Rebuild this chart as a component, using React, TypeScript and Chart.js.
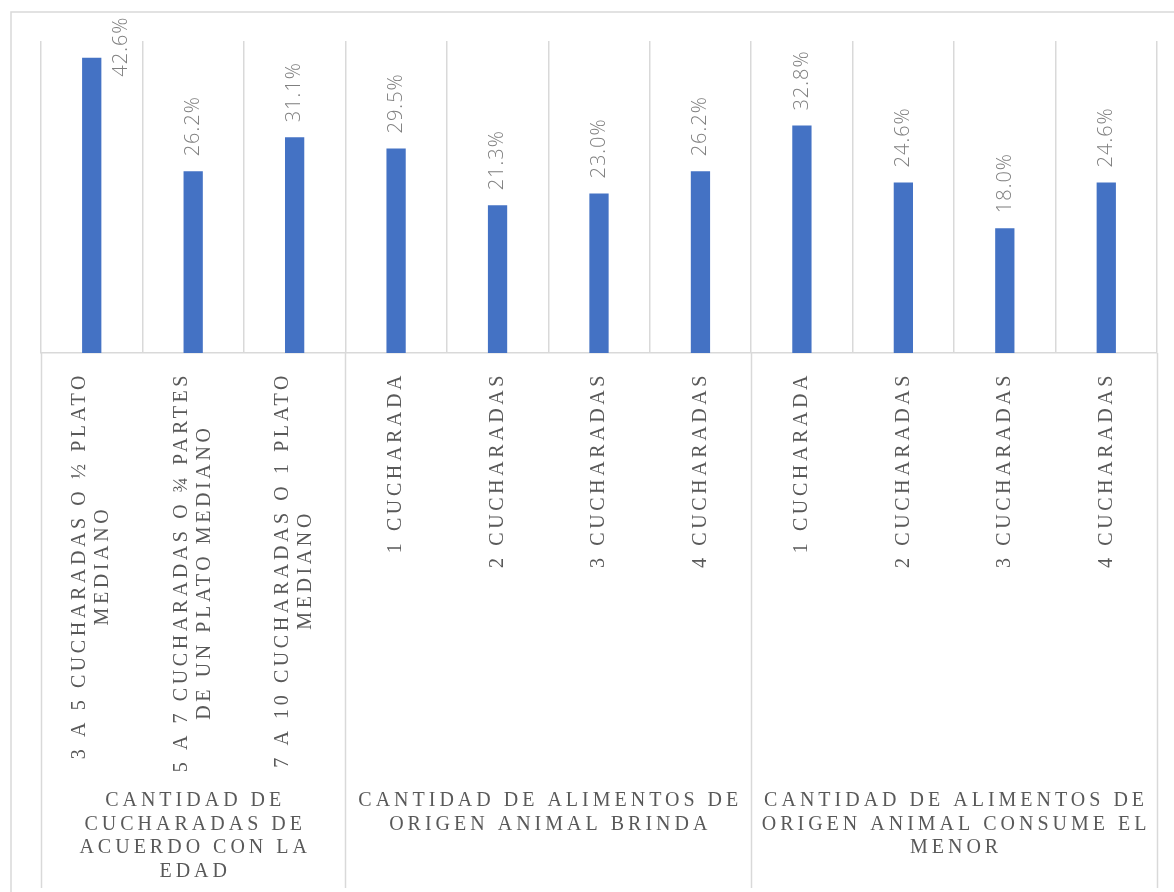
import React, { useEffect, useRef } from "react";
import { Chart, registerables } from "chart.js";

Chart.register(...registerables);

// Category labels (one entry per bar, each entry holds its text lines)
const categoryLines: string[][] = [
  ["3 A 5 CUCHARADAS O ½ PLATO", "MEDIANO"],
  ["5 A 7 CUCHARADAS O ¾ PARTES", "DE UN PLATO MEDIANO"],
  ["7 A 10 CUCHARADAS O 1 PLATO", "MEDIANO"],
  ["1 CUCHARADA"],
  ["2 CUCHARADAS"],
  ["3 CUCHARADAS"],
  ["4 CUCHARADAS"],
  ["1 CUCHARADA"],
  ["2 CUCHARADAS"],
  ["3 CUCHARADAS"],
  ["4 CUCHARADAS"],
];

// Percentages per category
const values: number[] = [42.6, 26.2, 31.1, 29.5, 21.3, 23.0, 26.2, 32.8, 24.6, 18.0, 24.6];

// Outer grouping of the categories
const groupLabels: string[][] = [
  ["CANTIDAD DE", "CUCHARADAS DE", "ACUERDO CON LA", "EDAD"],
  ["CANTIDAD DE ALIMENTOS DE", "ORIGEN ANIMAL BRINDA"],
  ["CANTIDAD DE ALIMENTOS DE", "ORIGEN ANIMAL CONSUME EL", "MENOR"],
];
const groupSizes: number[] = [3, 4, 4];

const W = 1174;
const H = 892;
const GRID = "#d9d9d9";
const TEXT = "#595959";
const SERIF = '"Liberation Serif", "DejaVu Serif", serif';

const labelsPlugin = {
  id: "groupedLabels",
  afterDraw(chart: any) {
    const ctx: CanvasRenderingContext2D = chart.ctx;
    const area = chart.chartArea;
    const x = chart.scales.x;
    const step = x.getPixelForValue(1) - x.getPixelForValue(0);
    const half = step / 2;
    const axisY = area.bottom;

    ctx.save();

    // outer frame
    ctx.strokeStyle = GRID;
    ctx.lineWidth = 1.5;
    ctx.beginPath();
    ctx.moveTo(11, H);
    ctx.lineTo(11, 12);
    ctx.lineTo(W, 12);
    ctx.stroke();

    // group separators below the axis
    const bounds: number[] = [0];
    groupSizes.forEach((n) => bounds.push(bounds[bounds.length - 1] + n));
    ctx.beginPath();
    bounds.forEach((b) => {
      const px = Math.round(x.getPixelForValue(b) - half) + 0.5;
      ctx.moveTo(px, axisY);
      ctx.lineTo(px, 888);
    });
    ctx.stroke();

    // rotated category labels
    ctx.fillStyle = TEXT;
    ctx.font = `20px ${SERIF}`;
    (ctx as any).letterSpacing = "3.6px";
    ctx.textBaseline = "middle";
    ctx.textAlign = "center";
    const lineH = 23;
    categoryLines.forEach((lines, i) => {
      const cx = x.getPixelForValue(i);
      const maxW = Math.max(...lines.map((l) => ctx.measureText(l).width));
      ctx.save();
      ctx.translate(cx, axisY + 19);
      ctx.rotate(-Math.PI / 2);
      lines.forEach((l, j) => {
        const off = (j - (lines.length - 1) / 2) * lineH;
        ctx.fillText(l, -maxW / 2, off);
      });
      ctx.restore();
    });

    // group labels
    (ctx as any).letterSpacing = "4px";
    ctx.textAlign = "center";
    groupLabels.forEach((lines, g) => {
      const left = x.getPixelForValue(bounds[g]) - half;
      const right = x.getPixelForValue(bounds[g + 1]) - half;
      const cx = (left + right) / 2 + 2;
      lines.forEach((l, j) => {
        ctx.fillText(l, cx, 801 + j * 23.5);
      });
    });

    // value labels
    const meta = chart.getDatasetMeta(0);
    ctx.font = `300 20px "Open Sans", "Lato", "Noto Sans", sans-serif`;
    (ctx as any).letterSpacing = "1px";
    ctx.fillStyle = "#7f7f7f";
    ctx.textAlign = "left";
    meta.data.forEach((bar: any, i: number) => {
      const txt = values[i].toFixed(1) + "%";
      const len = ctx.measureText(txt).width;
      let bx = bar.x;
      let bottom = bar.y - 15;
      if (bottom - len < 15) {
        bx = bar.x + bar.width / 2 + 20;
        bottom = bar.y + 19;
      }
      ctx.save();
      ctx.translate(bx, bottom);
      ctx.rotate(-Math.PI / 2);
      ctx.fillText(txt, 0, 0);
      ctx.restore();
    });

    ctx.restore();
  },
};

export default function App() {
  const ref = useRef<HTMLCanvasElement | null>(null);

  useEffect(() => {
    if (!ref.current) return;
    const chart = new Chart(ref.current, {
      type: "bar",
      data: {
        labels: categoryLines.map((l) => l.join(" ")),
        datasets: [
          {
            data: values,
            backgroundColor: "#4472C4",
            borderWidth: 0,
            barPercentage: 0.19,
            categoryPercentage: 1,
          },
        ],
      },
      options: {
        responsive: false,
        animation: false,
        layout: { padding: { left: 41, right: W - 1157, top: 41, bottom: H - 353 } },
        plugins: {
          legend: { display: false },
          tooltip: { enabled: false },
        },
        scales: {
          x: {
            offset: true,
            ticks: { display: false },
            grid: {
              offset: true,
              color: GRID,
              lineWidth: 1.5,
              drawTicks: false,
            },
            border: { display: true, color: GRID, width: 1.5 },
          },
          y: {
            display: false,
            min: 0,
            max: 45,
          },
        },
      },
      plugins: [labelsPlugin],
    });
    return () => chart.destroy();
  }, []);

  return (
    <div style={{ position: "fixed", left: 0, top: 0, width: W, height: H, background: "#fff" }}>
      <canvas ref={ref} width={W} height={H} style={{ width: W, height: H, display: "block" }} />
    </div>
  );
}
